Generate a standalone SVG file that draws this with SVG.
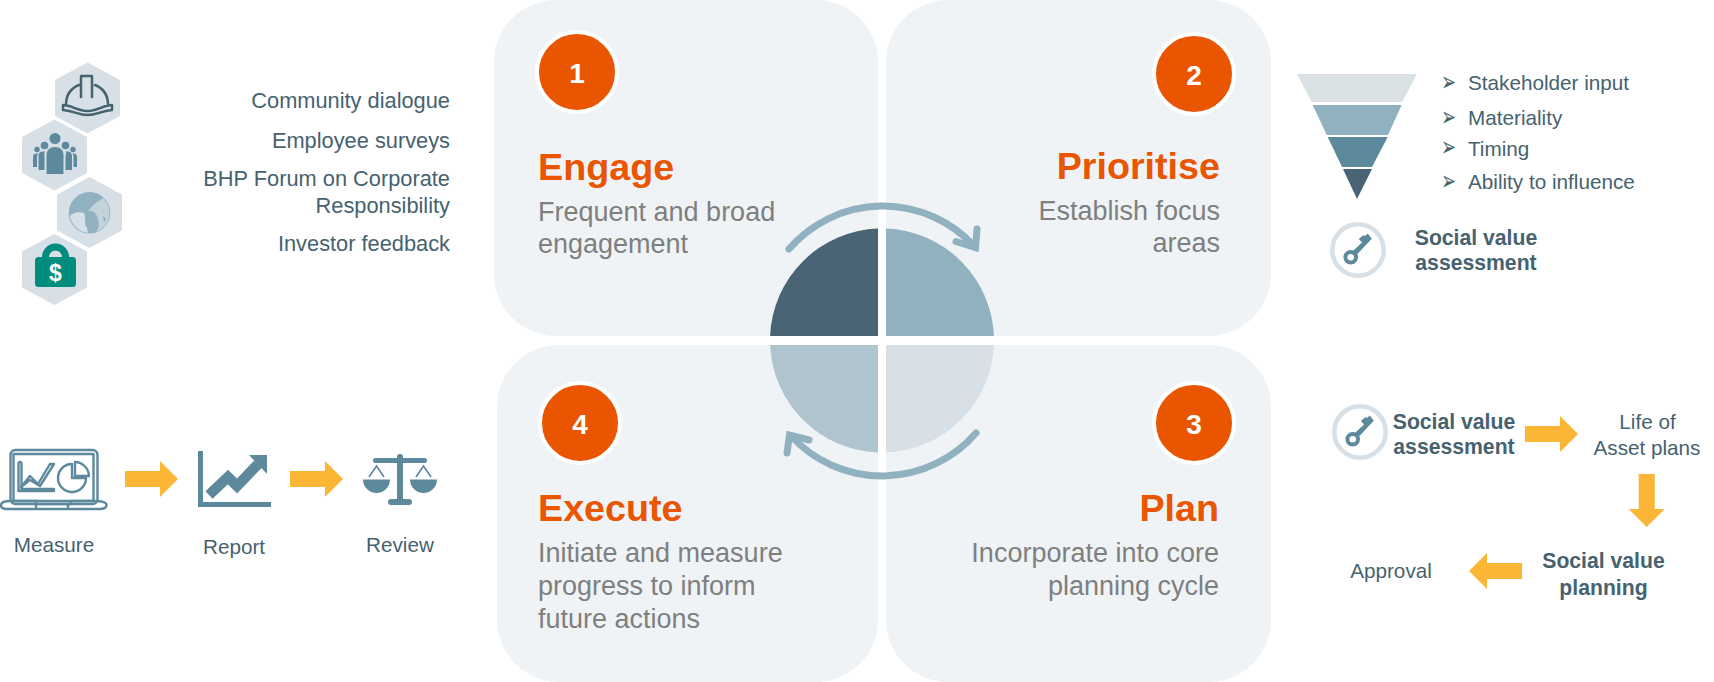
<svg xmlns="http://www.w3.org/2000/svg" width="1714" height="682" viewBox="0 0 1714 682">
<style>
text{font-family:"Liberation Sans",Arial,sans-serif}
.panel{fill:#eff3f6}
.badge{fill:#e95500;stroke:#fff;stroke-width:4}
.num{font-size:28px;font-weight:700;fill:#fff;text-anchor:middle}
.head{font-size:37.7px;font-weight:700;fill:#e95500}
.sub{font-size:27px;fill:#7f7f7f}
.end{text-anchor:end}
.mid{text-anchor:middle}
.lbl{font-size:20.7px;fill:#46626f}
.lbls{font-size:21.8px;fill:#46626f}
.bold{font-size:21.2px;font-weight:700;fill:#46626f;text-anchor:middle}
.bul{font-size:18px;fill:#46626f;font-family:"DejaVu Sans",sans-serif}
.hex{fill:#d7e0e7}
.teal{fill:#5d899d}
.ln{fill:none;stroke:#5d899d;stroke-width:2.4;stroke-linecap:round;stroke-linejoin:round}
.cyc{fill:none;stroke:#90b1c0;stroke-width:7;stroke-linecap:round}
.blk{fill:#fbb636}
</style>
<defs>
<path id="arr" d="M0 -8H35V-18L53 0L35 18V8H0Z"/>
<path id="hexa" d="M0 -35.5L32.500 -18V18L0 35.500L-32.500 18V-18Z"/>
<g id="key">
<circle r="25.700" fill="#fff" stroke="#d7e0e7" stroke-width="4.500"/>
<circle cx="-7.300" cy="7.300" r="5.300" fill="none" stroke="#5d899d" stroke-width="4"/>
<path d="M1.700 -11L5.700 -14.300L7 -13L9.700 -15.700L13 -11.300L-2 4.500L-4.800 1.500L5 -7.500Z" fill="#5d899d" stroke="#5d899d" stroke-width="1.200"/>
</g>
</defs>

<g id="node-engage">
<rect class="panel" x="494" y="0" width="384" height="336" rx="62"/>
<circle class="badge" cx="577" cy="72" r="40"/>
<text class="num" x="577" y="83">1</text>
<text class="head" x="538" y="179.500">Engage</text>
<text class="sub" x="538" y="221">Frequent and broad</text>
<text class="sub" x="538" y="253">engagement</text>
</g>
<g id="node-prioritise">
<rect class="panel" x="886" y="0" width="385" height="336" rx="62"/>
<circle class="badge" cx="1194" cy="74" r="40"/>
<text class="num" x="1194" y="85">2</text>
<text class="head end" x="1220" y="179">Prioritise</text>
<text class="sub end" x="1220" y="220">Establish focus</text>
<text class="sub end" x="1220" y="252">areas</text>
</g>
<g id="node-execute">
<rect class="panel" x="497" y="345" width="381" height="337" rx="62"/>
<circle class="badge" cx="580" cy="423" r="40"/>
<text class="num" x="580" y="434">4</text>
<text class="head" x="538" y="521">Execute</text>
<text class="sub" x="538" y="562">Initiate and measure</text>
<text class="sub" x="538" y="595">progress to inform</text>
<text class="sub" x="538" y="628">future actions</text>
</g>
<g id="node-plan">
<rect class="panel" x="886" y="345" width="385" height="337" rx="62"/>
<circle class="badge" cx="1194" cy="423" r="40"/>
<text class="num" x="1194" y="434">3</text>
<text class="head end" x="1219" y="521">Plan</text>
<text class="sub end" x="1219" y="562">Incorporate into core</text>
<text class="sub end" x="1219" y="595">planning cycle</text>
</g>

<g id="node-cycle">
<path d="M878 336H770.100A112 112 0 0 1 878 228.600Z" fill="#486475"/>
<path d="M886 336H993.900A112 112 0 0 0 886 228.600Z" fill="#90b1c0"/>
<path d="M878 345H770.100A112 112 0 0 0 878 452.400Z" fill="#afc4cf"/>
<path d="M886 345H993.900A112 112 0 0 1 886 452.400Z" fill="#d7e0e7"/>
</g>

<g id="connectors">
<path class="cyc" d="M789 249A124 124 0 0 1 974 246"/>
<path class="cyc" d="M977 229L975.500 247.500L956 241.500" stroke-linejoin="miter"/>
<path class="cyc" d="M976 433A124 124 0 0 1 791 436"/>
<path class="cyc" d="M787 453L789.500 435L809 440" stroke-linejoin="miter"/>
<use href="#arr" class="blk" x="125" y="479"/>
<use href="#arr" class="blk" x="290" y="479"/>
<use href="#arr" class="blk" x="1525" y="434"/>
<use href="#arr" class="blk" transform="translate(1646.700 474) rotate(90)"/>
<use href="#arr" class="blk" transform="translate(1522 571) rotate(180)"/>
</g>

<g id="node-hardhat">
<use href="#hexa" class="hex" x="87.500" y="98"/>
<path d="M79 85C69 89 66 97 66 105M95 85C105 89 108 97 108 105M63 105V110C75 111 78 115 87.500 115C97 115 100 111 112 110V105C104 105 97 111 87.500 111C78 111 71 105 63 105ZM81 97V76H92V97" fill="none" stroke="#46626f" stroke-width="2.500" stroke-linejoin="round" stroke-linecap="round"/>
</g>
<g id="node-people">
<use href="#hexa" class="hex" x="54.500" y="155"/>
<g class="teal">
<circle cx="55" cy="138.500" r="5.500"/>
<circle cx="44.500" cy="145.500" r="3.800"/>
<circle cx="65.500" cy="145.500" r="3.800"/>
<circle cx="37" cy="149.500" r="2.700"/>
<circle cx="73" cy="149.500" r="2.700"/>
<path d="M46.500 174V155C46.500 150 50 147 55 147C60 147 63.500 150 63.500 155V174Z"/>
<path d="M38.500 170V156C38.500 152 41 151 45 151.500C44 153 44.500 155 44.500 158V170Z"/>
<path d="M72 170V156C72 152 69.500 151 66 151.500C66.500 153 65.500 155 65.500 158V170Z"/>
<path d="M33 167V157C33 154 35 153 38 153.500C37 155 37 157 37 159V167Z"/>
<path d="M77 167V157C77 154 75 153 72.500 153.500C73.500 155 73.500 157 73.500 159V167Z"/>
</g>
</g>
<g id="node-globe">
<use href="#hexa" class="hex" x="89.500" y="212.500"/>
<circle cx="89.500" cy="212.800" r="20.300" fill="#90b1c0" stroke="#90b1c0"/>
<path d="M70 216C72 213 80 211 84 213C86 218 84 224 87 228L88 232.700A20.300 20.300 0 0 1 70 216Z" fill="#d7e0e7"/>
<path d="M88 211L93 205L103 198A20.300 20.300 0 0 1 96 232C100 226 99 222 97 216C95 212 92 210 88 211Z" fill="#c3d3da"/>
<path d="M103 216L106 219L104 222Z" fill="#90b1c0"/>
</g>
<g id="node-bag">
<use href="#hexa" class="hex" x="54.500" y="269.500"/>
<path d="M42 257A13.500 13.500 0 0 1 69 257H62A6.500 6.500 0 0 0 49 257Z" fill="#008d7d"/>
<rect x="35" y="257" width="41" height="30" rx="3.500" fill="#008d7d"/>
<text x="55.500" y="281" font-size="23" font-weight="700" fill="#fff" text-anchor="middle">$</text>
</g>

<g id="node-inputs">
<text class="lbls end" x="450" y="108">Community dialogue</text>
<text class="lbls end" x="450" y="148">Employee surveys</text>
<text class="lbls end" x="450" y="186">BHP Forum on Corporate</text>
<text class="lbls end" x="450" y="213">Responsibility</text>
<text class="lbls end" x="450" y="251">Investor feedback</text>
</g>

<g id="node-measure">
<rect x="10.500" y="450" width="87" height="54" rx="5" class="ln"/>
<rect x="13.500" y="454" width="80" height="47" class="ln"/>
<path d="M13 501H36V504H71V501H94Q107 501 106.500 505.500Q106 509 100 509H7Q1 509 1 505.500Q1 501 10 501Z" class="ln"/>
<path d="M36 504V508M68 504V508" class="ln"/>
<path d="M18.500 488V463Q20 461 21.500 463V489H54V491H18.500Z" class="ln"/>
<path d="M21 487L30 476L38 484L50 464L54 464L40 486L30 480Z" class="ln"/>
<path d="M72 464A14 14 0 1 0 86 478H72Z" class="ln"/>
<path d="M75 462A14.500 14.500 0 0 1 89 476H75Z" class="ln"/>
<text class="lbl mid" x="54" y="552">Measure</text>
</g>
<g id="node-report">
<path d="M200.500 451V504.500H271" fill="none" stroke="#5d899d" stroke-width="5"/>
<path d="M209 495L228 477L237 486L258 464" fill="none" stroke="#5d899d" stroke-width="10.500"/>
<path d="M249 455H267V474Z" class="teal"/>
<text class="lbl mid" x="234" y="554">Report</text>
</g>
<g id="node-review">
<rect x="373" y="458" width="54" height="5" rx="2.500" class="teal"/>
<rect x="397" y="454" width="6" height="50" rx="2.500" class="teal"/>
<rect x="388" y="499" width="24" height="6" rx="3" class="teal"/>
<path d="M363 479.500H390A13.500 13.500 0 0 1 363 479.500ZM410 479.500H437A13.500 13.500 0 0 1 410 479.500Z" class="teal"/>
<path d="M369 477L376.500 466L384 477M416 477L423.500 466L431 477" fill="none" stroke="#5d899d" stroke-width="1.600"/>
<text class="lbl mid" x="400" y="552">Review</text>
</g>

<g id="node-funnel">
<path d="M1297 74H1417L1402 102H1311.700Z" fill="#d9e1e4"/>
<path d="M1312.700 105H1401.700L1388 135H1326.700Z" fill="#90b1c0"/>
<path d="M1327.700 137H1387.700L1372 167H1342Z" fill="#5d899d"/>
<path d="M1343 169H1372L1357 199Z" fill="#486475"/>
</g>
<g id="node-criteria">
<text class="bul" transform="translate(1441 91) scale(1 1.5)">➢</text><text class="lbl" x="1468" y="90">Stakeholder input</text>
<text class="bul" transform="translate(1441 126) scale(1 1.5)">➢</text><text class="lbl" x="1468" y="125">Materiality</text>
<text class="bul" transform="translate(1441 156) scale(1 1.5)">➢</text><text class="lbl" x="1468" y="156">Timing</text>
<text class="bul" transform="translate(1441 190) scale(1 1.5)">➢</text><text class="lbl" x="1468" y="189">Ability to influence</text>
</g>
<g id="node-assess-top">
<use href="#key" x="1358" y="250"/>
<text class="bold" x="1476" y="245">Social value</text>
<text class="bold" x="1476" y="270">assessment</text>
</g>
<g id="node-assess-plan">
<use href="#key" x="1360" y="432"/>
<text class="bold" x="1454" y="429">Social value</text>
<text class="bold" x="1454" y="454">assessment</text>
</g>
<g id="node-life">
<text class="lbl mid" x="1647.500" y="429">Life of</text>
<text class="lbl mid" x="1647" y="455">Asset plans</text>
</g>
<g id="node-planning">
<text class="bold" x="1603.500" y="568">Social value</text>
<text class="bold" x="1603.500" y="595">planning</text>
</g>
<g id="node-approval">
<text class="lbl mid" x="1391" y="578">Approval</text>
</g>
</svg>
